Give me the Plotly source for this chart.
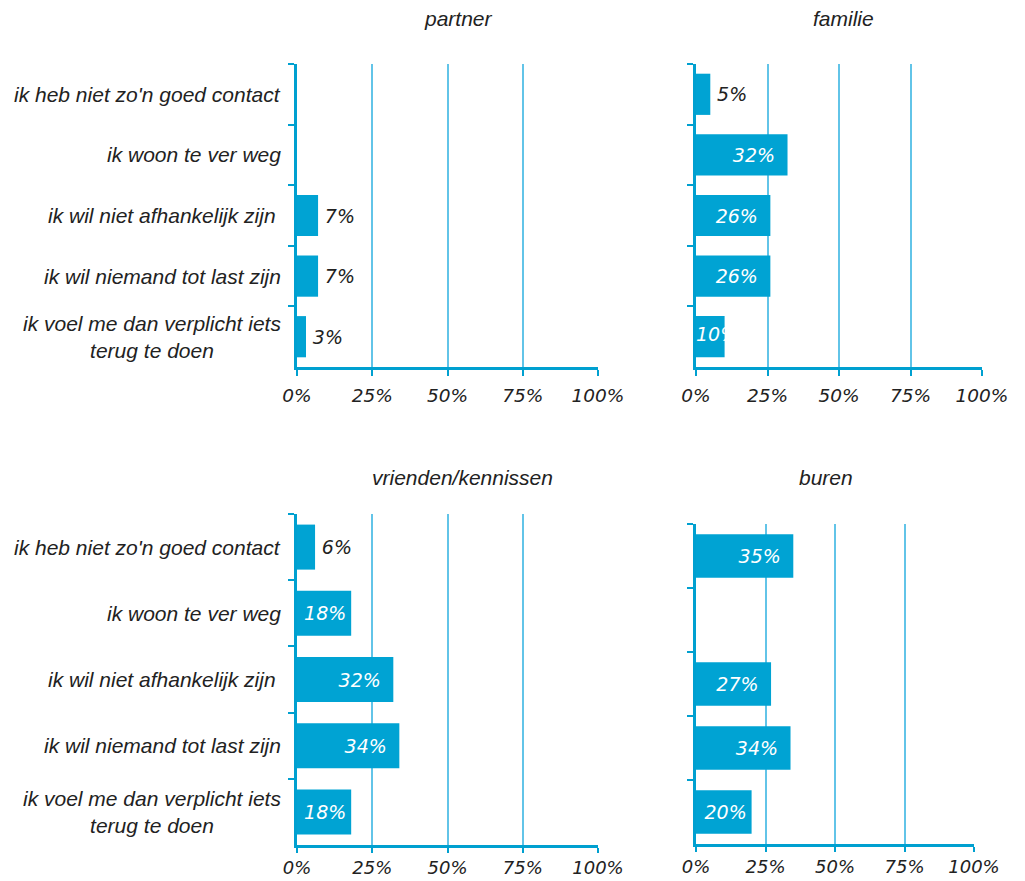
import plotly.graph_objects as go

categories = [
    "ik heb niet zo'n goed contact",
    "ik woon te ver weg",
    "ik wil niet afhankelijk zijn ",
    "ik wil niemand tot last zijn",
    "ik voel me dan verplicht iets<br>terug te doen",
]
panel_titles = ["partner", "familie", "vrienden/kennissen", "buren"]
partner = [None, None, 7, 7, 3]
familie = [5, 32, 26, 26, 10]
vrienden = [6, 18, 32, 34, 18]
buren = [35, None, 27, 34, 20]
x_ticks = [0, 25, 50, 75, 100]
x_ticklabels = ["0%", "25%", "50%", "75%", "100%"]

series = [partner, familie, vrienden, buren]

BAR = "#00A3D3"
GRID = "#62C4E8"
AXIS = "#00A0D0"
NUMFONT = "DejaVu Sans"
LBLFONT = "Liberation Sans"
TFS = 18.5   # tick labels
DFS = 19     # data labels
LFS = 21     # category labels / titles

W, H = 1025, 881
boxes = [
    (297, 598, 64, 367),
    (696, 982, 64, 367),
    (297, 598, 514, 845),
    (696, 974, 524, 844),
]
title_y = [18, 18, 477, 477]
title_x = [458, 843, 462, 826]

fig = go.Figure()
layout = dict(
    width=W, height=H, autosize=False,
    margin=dict(l=0, r=0, t=0, b=0, pad=0, autoexpand=False),
    paper_bgcolor="white", plot_bgcolor="white",
    showlegend=False, barmode="overlay",
    font=dict(family=NUMFONT, size=TFS, color="#222222"),
    annotations=[],
)

for i, (vals, box) in enumerate(zip(series, boxes)):
    n = "" if i == 0 else str(i + 1)
    xa, ya = "x" + n, "y" + n
    texts, pos = [], []
    start_x, start_y, start_t = [], [], []
    for v, c in zip(vals, categories):
        if v is None:
            texts.append("")
            pos.append("none")
        elif v < 10:
            texts.append(f"<i>\u2009{v}%</i>")
            pos.append("outside")
        elif v < 15:
            # label too wide for the bar: starts at the bar's base
            texts.append("")
            pos.append("none")
            start_x.append(0)
            start_y.append(c)
            start_t.append(f"<i>{v}%</i>")
        elif v < 25:
            texts.append(f"<i>{v}%\u200a</i>")
            pos.append("inside")
        else:
            texts.append(f"<i>{v}%\u2002</i>")
            pos.append("inside")
    fig.add_trace(go.Bar(
        x=vals, y=categories, orientation="h",
        marker=dict(color=BAR, line=dict(width=0)),
        text=texts, textposition=pos, insidetextanchor="end",
        textangle=0, constraintext="none", cliponaxis=False,
        insidetextfont=dict(color="white", size=DFS, family=NUMFONT),
        outsidetextfont=dict(color="#222222", size=DFS, family=NUMFONT),
        xaxis=xa, yaxis=ya, width=0.68, hoverinfo="skip",
    ))
    if start_x:
        fig.add_trace(go.Scatter(
            x=start_x, y=start_y, text=start_t, mode="text",
            textposition="middle right", cliponaxis=False,
            textfont=dict(color="white", size=DFS, family=NUMFONT),
            xaxis=xa, yaxis=ya, hoverinfo="skip",
        ))
    x0, x1, yt, yb = box
    bottom_row = i >= 2
    layout["xaxis" + n] = dict(
        domain=[x0 / W, x1 / W], range=[0, 100], anchor=ya,
        tickvals=x_ticks, ticktext=[f"<i>{t}</i>" for t in x_ticklabels],
        showgrid=True, gridcolor=GRID, gridwidth=1.5,
        showline=True, linecolor=AXIS, linewidth=2.5,
        ticks="outside", ticklen=6 if not bottom_row else 5, tickwidth=2, tickcolor=AXIS,
        ticklabelstandoff=4 if not bottom_row else 0, automargin=False,
        zeroline=False, fixedrange=True,
        tickfont=dict(size=TFS if not bottom_row else 18, color="#222222", family=NUMFONT),
    )
    layout["yaxis" + n] = dict(
        domain=[1 - yb / H, 1 - yt / H], anchor=xa,
        type="category", categoryorder="array", categoryarray=categories,
        autorange="reversed", automargin=False,
        showline=True, linecolor=AXIS, linewidth=2.5,
        ticks="outside", tickson="boundaries", ticklen=6, tickwidth=2,
        tickcolor=AXIS, showticklabels=False, showgrid=False, fixedrange=True,
    )
    layout["annotations"].append(dict(
        text=f"<i>{panel_titles[i]}</i>", showarrow=False,
        xref="paper", yref="paper", x=title_x[i] / W,
        y=1 - title_y[i] / H, xanchor="center", yanchor="middle",
        font=dict(size=LFS, color="#222222", family=LBLFONT),
    ))
    if i in (0, 2):
        for c in categories:
            layout["annotations"].append(dict(
                text=f"<i>{c}</i>", showarrow=False,
                xref=xa + " domain", yref=ya, x=0, y=c,
                xanchor="right", yanchor="middle", xshift=-14, align="center",
                font=dict(size=LFS, color="#222222", family=LBLFONT),
            ))

fig.update_layout(**layout)
fig.write_html("out.html", default_width="1025px", default_height="881px")
